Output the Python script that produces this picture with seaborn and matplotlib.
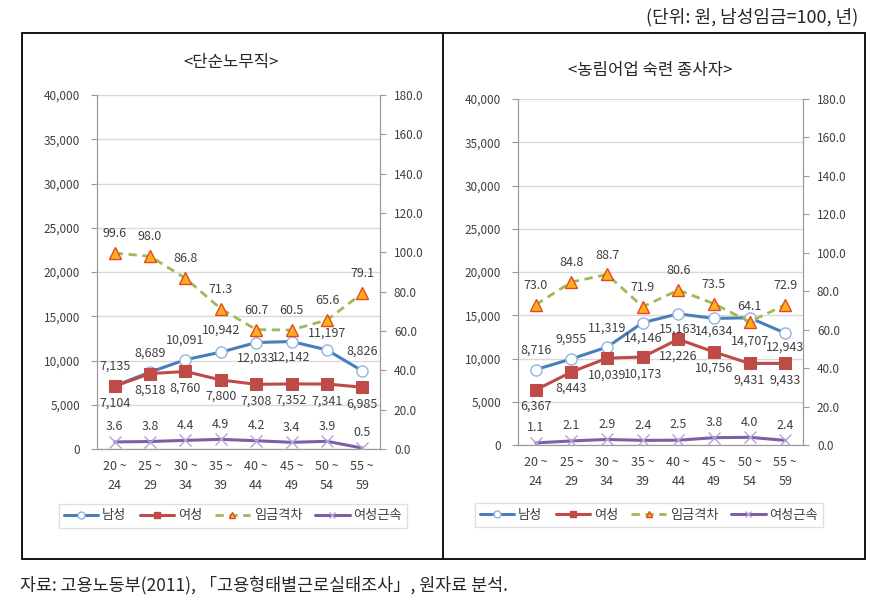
import matplotlib
matplotlib.use('Agg')
import matplotlib.pyplot as plt
import seaborn as sns
from matplotlib.lines import Line2D
from matplotlib.patches import Rectangle
from matplotlib.ticker import FuncFormatter, FixedLocator

# age groups
ages = ['20 ~\n24', '25 ~\n29', '30 ~\n34', '35 ~\n39', '40 ~\n44', '45 ~\n49', '50 ~\n54', '55 ~\n59']
series_names = ['남성', '여성', '임금격차', '여성근속']

# <단순노무직>
labor_male = [7135, 8689, 10091, 10942, 12033, 12142, 11197, 8826]
labor_female = [7104, 8518, 8760, 7800, 7308, 7352, 7341, 6985]
labor_gap = [99.6, 98.0, 86.8, 71.3, 60.7, 60.5, 65.6, 79.1]
labor_tenure = [3.6, 3.8, 4.4, 4.9, 4.2, 3.4, 3.9, 0.5]

# <농림어업 숙련 종사자>
farm_male = [8716, 9955, 11319, 14146, 15163, 14634, 14707, 12943]
farm_female = [6367, 8443, 10039, 10173, 12226, 10756, 9431, 9433]
farm_gap = [73.0, 84.8, 88.7, 71.9, 80.6, 73.5, 64.1, 72.9]
farm_tenure = [1.1, 2.1, 2.9, 2.4, 2.5, 3.8, 4.0, 2.4]

sns.set_style('white')
plt.rcParams['font.family'] = ['Noto Sans CJK KR', 'DejaVu Sans']

W, H = 891, 611
fig = plt.figure(figsize=(W / 100, H / 100), dpi=100)


def fx(px):
    return px / W


def fy(py):
    return 1 - py / H


TXT = '#404040'
AXC = '#9a9a9a'

styles = [
    dict(color='#4a7ebb', lw=2.2, marker='o', markerfacecolor='white',
         markeredgecolor='#8eb4e3', markeredgewidth=1.0),
    dict(color='#be4b48', lw=2.2, marker='s', markerfacecolor='#be4b48',
         markeredgecolor='#be4b48'),
    dict(color='#9bbb59', lw=2.0, dashes=(3, 2), marker='^', markerfacecolor='#ffb020',
         markeredgecolor='#e8461c', markeredgewidth=1.0),
    dict(color='#7d5fa6', lw=2.2, marker='x', markeredgecolor='#b3a2d6', markeredgewidth=1.0),
]
msizes = [8, 8, 9, 8]


def panel(box, title, title_xy, male, female, gap, tenure, male_off, gap_off, legend_xy):
    x0, x1, ytop, ybot = box
    ax = fig.add_axes([fx(x0), fy(ybot), fx(x1) - fx(x0), fy(ytop) - fy(ybot)])
    ax2 = ax.twinx()
    x = list(range(len(ages)))

    for vals, a, st, ms in zip([male, female, gap, tenure], [ax, ax, ax2, ax2], styles, msizes):
        sns.lineplot(x=x, y=vals, ax=a, markersize=ms, zorder=3, **st)

    ax.set_ylim(0, 40000)
    ax2.set_ylim(0, 180)
    ax.set_xlim(-0.5, len(ages) - 0.5)
    ax.set_yticks(range(0, 40001, 5000))
    ax2.set_yticks(range(0, 181, 20))
    ax.yaxis.set_major_formatter(FuncFormatter(lambda v, p: f'{v:,.0f}'))
    ax2.yaxis.set_major_formatter(FuncFormatter(lambda v, p: f'{v:.1f}'))
    ax.set_xticks(x)
    ax.set_xticklabels(ages, linespacing=1.6)
    ax.xaxis.set_minor_locator(FixedLocator([i - 0.5 for i in range(len(ages) + 1)]))
    ax.tick_params(axis='x', which='major', length=0, pad=8, labelsize=9, labelcolor=TXT)
    ax.tick_params(axis='x', which='minor', length=5, color=AXC, direction='out')
    ax.tick_params(axis='y', length=4, color=AXC, labelsize=8.5, labelcolor=TXT, pad=8)
    ax2.tick_params(axis='y', length=4, color=AXC, labelsize=8.5, labelcolor=TXT, pad=6)
    ax.grid(axis='y', color='#d9d9d9', lw=1)
    ax.set_axisbelow(True)
    for a in (ax, ax2):
        a.spines['top'].set_visible(False)
        for s in ('left', 'right', 'bottom'):
            a.spines[s].set_color(AXC)
    ax.set_xlabel('')
    ax.set_ylabel('')
    ax2.set_ylabel('')

    lab = dict(ha='center', va='center', fontsize=9, color=TXT, textcoords='offset points')
    for i in x:
        ax.annotate(f'{male[i]:,}', (i, male[i]), xytext=(0, male_off[i]), **lab)
        ax.annotate(f'{female[i]:,}', (i, female[i]), xytext=(0, -12), **lab)
        ax2.annotate(f'{gap[i]:.1f}', (i, gap[i]), xytext=(0, gap_off[i]), **lab)
        ax2.annotate(f'{tenure[i]:.1f}', (i, tenure[i]), xytext=(0, 11), **lab)

    fig.text(fx(title_xy[0]), fy(title_xy[1]), title, ha='center', va='center', fontsize=12)

    handles = [Line2D([], [], markersize=5, **st) for st in styles]
    fig.legend(handles, series_names, loc='center', bbox_to_anchor=(fx(legend_xy[0]), fy(legend_xy[1])),
               ncol=4, frameon=True, fancybox=False, edgecolor='#d9d9d9', fontsize=9.5,
               handlelength=2.6, columnspacing=1.0, handletextpad=0.3, borderpad=0.4,
               labelcolor=TXT)


panel((97, 380, 95, 449), '<단순노무직>', (231, 62),
      labor_male, labor_female, labor_gap, labor_tenure,
      [14, 14, 14, 16, -11, -11, 12, 14], [14] * 8, (233, 516))
panel((518, 803, 99, 445), '<농림어업 숙련 종사자>', (650, 71),
      farm_male, farm_female, farm_gap, farm_tenure,
      [14, 14, 14, -11, -11, -9, -17, -10], [14, 14, 14, 14, 14, 14, 11, 14], (649, 515))

# frame around both panels
fig.add_artist(Rectangle((fx(22), fy(559)), fx(865) - fx(22), fy(33) - fy(559),
                         transform=fig.transFigure, fill=False, ec='black', lw=1.3))
fig.add_artist(Line2D([fx(443), fx(443)], [fy(33), fy(559)], transform=fig.transFigure,
                      color='black', lw=1.3))

fig.text(fx(858), fy(17), '(단위: 원, 남성임금=100, 년)', ha='right', va='center', fontsize=13)
fig.text(fx(20), fy(585), '자료: 고용노동부(2011), 「고용형태별근로실태조사」, 원자료 분석.',
         ha='left', va='center', fontsize=12.5)

fig.savefig('out.png', dpi=100)
